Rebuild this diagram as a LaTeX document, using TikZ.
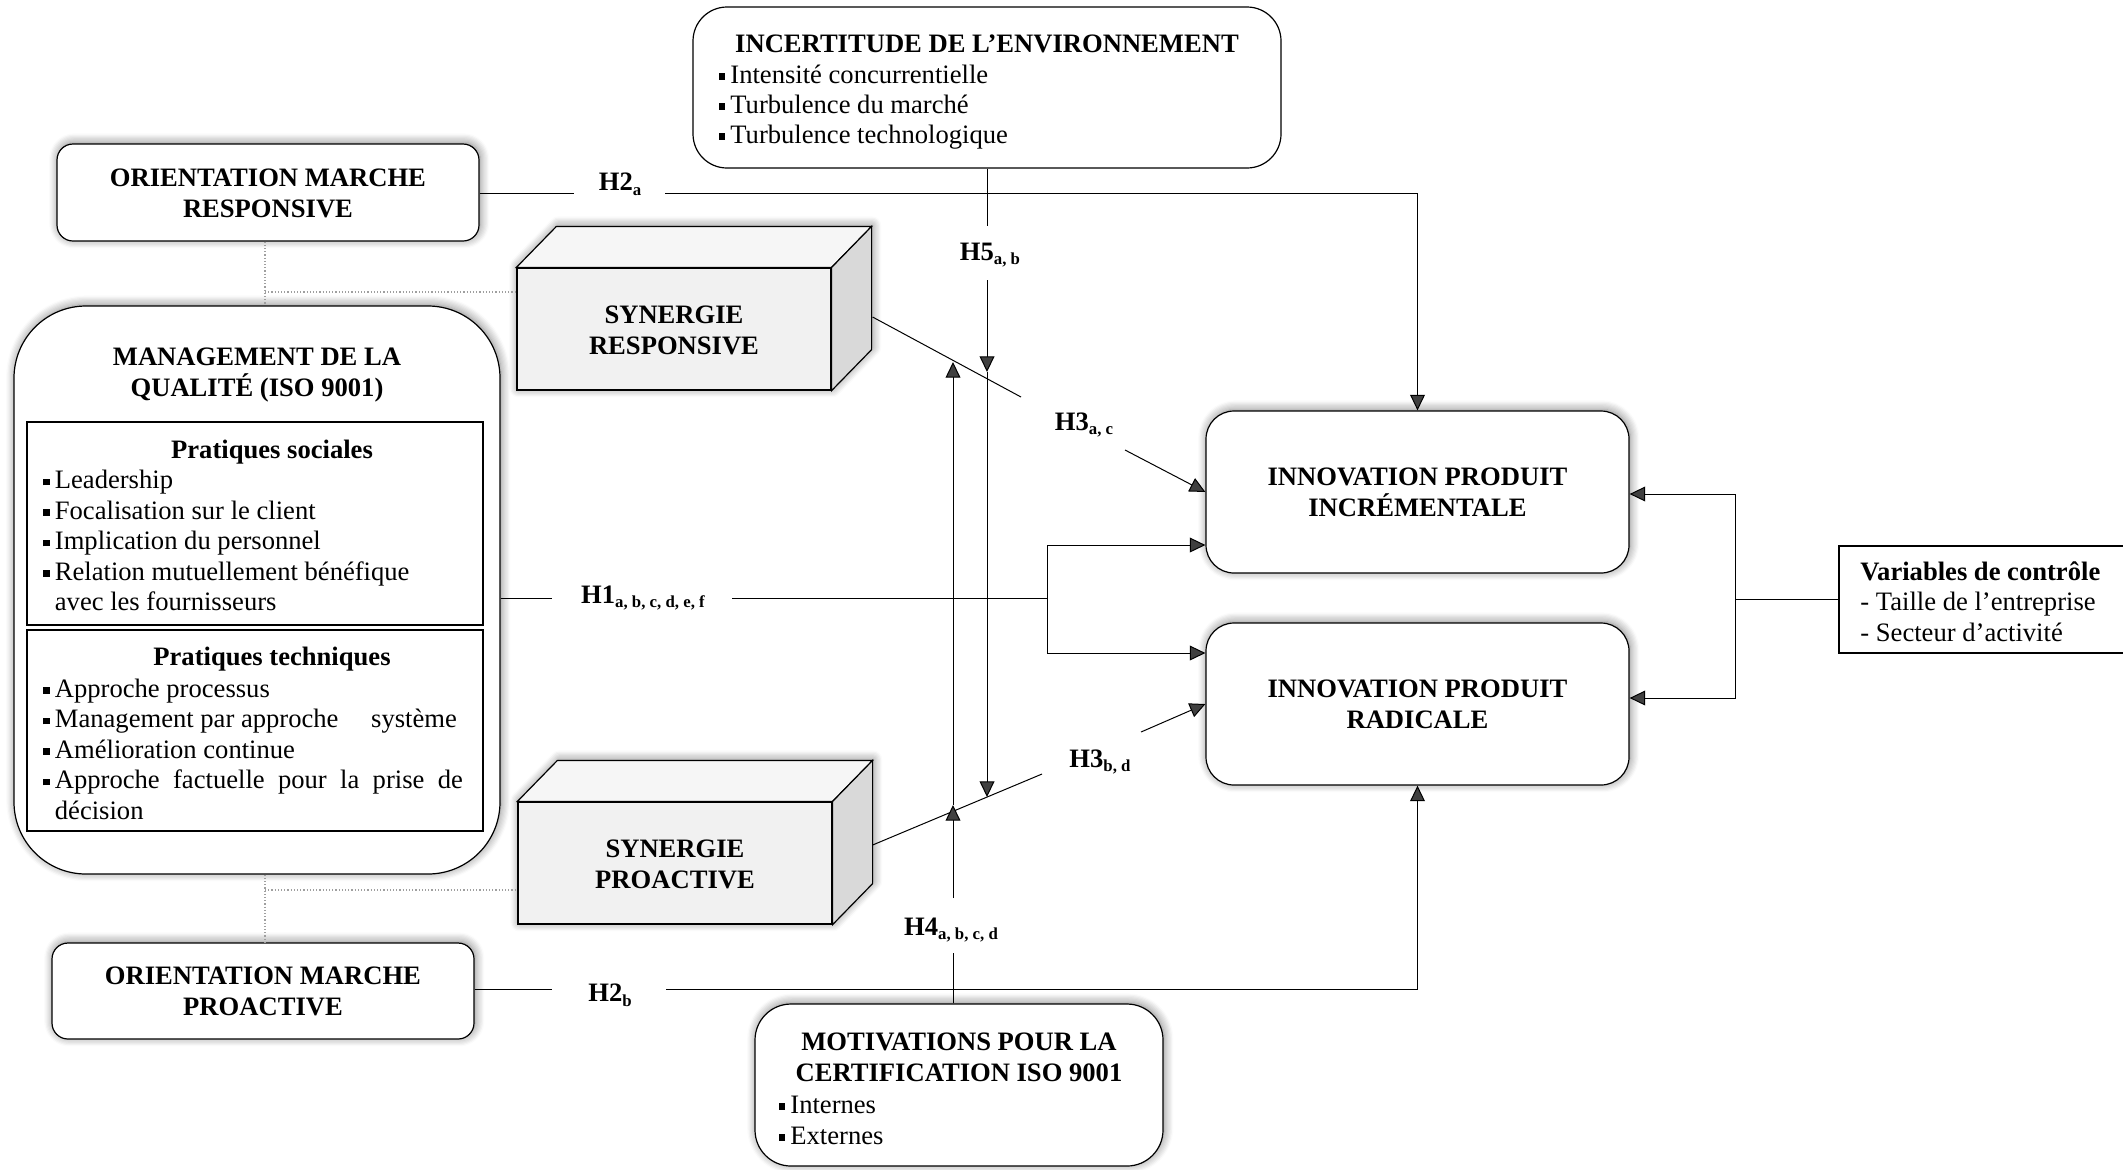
\documentclass[tikz,border=0pt]{standalone}
\usepackage{fontspec}
\setmainfont{Liberation Serif}
\usetikzlibrary{fit,calc,arrows.meta,shadows.blur}
\newcommand\sbs[1]{\raisebox{-2.4pt}{\fontsize{8.4}{9}\selectfont\bfseries #1}}
\newcommand\bsq{\llap{\raisebox{1.6pt}{\rule{3.3pt}{3.3pt}}\hspace{2.5pt}}}
\tikzset{
  every node/.style={font=\fontsize{13.3}{15.4}\selectfont},
  shad/.style={blur shadow={shadow xshift=0.6pt, shadow yshift=0.8pt, shadow blur radius=4.5pt, shadow blur steps=8, shadow opacity=50}},
  rbox/.style={draw, line width=0.6pt, fill=white, inner sep=0pt, rounded corners=#1, shad},
  rbox/.default=8pt,
  pbox/.style={draw, line width=0.6pt, inner sep=0pt},
  front/.style={draw, line width=0.6pt, fill=gray!11, inner sep=0pt},
  ctext/.style={align=center, inner sep=0pt, font=\fontsize{13.3}{15.6}\selectfont\bfseries},
  conn/.style={line width=0.5pt},
  arr/.style={conn, -{Triangle[length=7.8pt,width=7.4pt]}},
  dotl/.style={gray!75, densely dotted, line width=0.6pt},
  lbl/.style={font=\fontsize{13.3}{15}\selectfont\bfseries, inner sep=1pt},
  txt/.style={anchor=base west, inner sep=0pt},
  ttl/.style={anchor=base, inner sep=0pt, font=\fontsize{13.3}{15.4}\selectfont\bfseries},
}
\begin{document}
\begin{tikzpicture}[x=0.5pt, y=-0.5pt]
\useasboundingbox (0,0) rectangle (2123,1169);

% ---------- corner coordinates ----------
\coordinate (envA) at (693,7);   \coordinate (envB) at (1281,168);
\coordinate (omrA) at (57,144);  \coordinate (omrB) at (479,241);
\coordinate (ompA) at (52,943);  \coordinate (ompB) at (474,1039);
\coordinate (mgA) at (14,306);   \coordinate (mgB) at (500,874);
\coordinate (socA) at (27,422);  \coordinate (socB) at (483,625);
\coordinate (tecA) at (27,630);  \coordinate (tecB) at (483,831);
\coordinate (incA) at (1206,411); \coordinate (incB) at (1629,573);
\coordinate (radA) at (1206,623); \coordinate (radB) at (1629,785);
\coordinate (motA) at (755,1004); \coordinate (motB) at (1163,1166);
\coordinate (varA) at (1839,546); \coordinate (varB) at (2130,653);
\coordinate (srA) at (517,268);  \coordinate (srB) at (831,390);
\coordinate (spA) at (518,802);  \coordinate (spB) at (832,924);

% ---------- INCERTITUDE ----------
\node[draw, line width=0.6pt, fill=white, inner sep=0pt, rounded corners=17pt, fit=(envA)(envB)] (env) {};
\node[ttl] (envt) at (987,52) {INCERTITUDE DE L’ENVIRONNEMENT};
\node[txt] (env1) at (730,83) {\bsq Intensité concurrentielle};
\node[txt] (env2) at (730,113) {\bsq Turbulence du marché};
\node[txt] (env3) at (730,143) {\bsq Turbulence technologique};

% ---------- orientation boxes ----------
\node[rbox, fit=(omrA)(omrB)] (omr) {};
\node[ctext] (omrt) at ($(omr.center)+(0,1)$) {ORIENTATION MARCHE\\RESPONSIVE};
\node[rbox, fit=(ompA)(ompB)] (omp) {};
\node[ctext] (ompt) at ($(omp.center)+(0,0)$) {ORIENTATION MARCHE\\PROACTIVE};

% ---------- management ----------
\node[rbox=36pt, fit=(mgA)(mgB)] (mgmt) {};
\node[ctext] (mgt) at (257,375) {MANAGEMENT DE LA\\QUALITÉ (ISO 9001)};
\node[pbox, fit=(socA)(socB)] (soc) {};
\node[pbox, fit=(tecA)(tecB)] (tec) {};
\node[ttl] (soct) at (272,458) {Pratiques sociales};
\node[txt] (s1) at (54.5,488.5) {\bsq Leadership};
\node[txt] (s2) at (54.5,519) {\bsq Focalisation sur le client};
\node[txt] (s3) at (54.5,549.5) {\bsq Implication du personnel};
\node[txt] (s4) at (54.5,580) {\bsq Relation mutuellement bénéfique};
\node[txt] (s5) at (54.5,610.5) {avec les fournisseurs};
\node[ttl] (tect) at (272,665.5) {Pratiques techniques};
\node[txt] (t1) at (54.5,697) {\bsq Approche processus};
\node[txt] (t2) at (54.5,727.5) {\bsq\makebox[201pt][l]{Management par approche\hfill système}};
\node[txt] (t3) at (54.5,758) {\bsq Amélioration continue};
\node[txt] (t4) at (54.5,788.5) {\bsq\makebox[204pt][s]{Approche factuelle pour la prise de}};
\node[txt] (t5) at (54.5,819) {décision};

% ---------- synergy cubes ----------
\path[shad, fill=white] (srA |- srB) -- (srA) -- ++(40,-41) -- ($(srB |- srA)+(40,-41)$) -- ($(srB)+(40,-41)$) -- (srB) -- cycle;
\node[front, fit=(srA)(srB)] (sr) {};
\draw[line width=0.6pt, fill=gray!7] (sr.north west) -- ++(40,-41) -- ($(sr.north east)+(40,-41)$) -- (sr.north east) -- cycle;
\draw[line width=0.6pt, fill=gray!30] (sr.north east) -- ++(40,-41) -- ($(sr.south east)+(40,-41)$) -- (sr.south east) -- cycle;
\node[ctext] (srt) at ($(sr.center)+(0,1)$) {SYNERGIE\\RESPONSIVE};

\path[shad, fill=white] (spA |- spB) -- (spA) -- ++(40,-41) -- ($(spB |- spA)+(40,-41)$) -- ($(spB)+(40,-41)$) -- (spB) -- cycle;
\node[front, fit=(spA)(spB)] (sp) {};
\draw[line width=0.6pt, fill=gray!7] (sp.north west) -- ++(40,-41) -- ($(sp.north east)+(40,-41)$) -- (sp.north east) -- cycle;
\draw[line width=0.6pt, fill=gray!30] (sp.north east) -- ++(40,-41) -- ($(sp.south east)+(40,-41)$) -- (sp.south east) -- cycle;
\node[ctext] (spt) at ($(sp.center)+(0,1)$) {SYNERGIE\\PROACTIVE};

% ---------- innovation ----------
\node[rbox=14pt, fit=(incA)(incB)] (inc) {};
\node[ctext] (inct) at ($(inc.center)+(0,0)$) {INNOVATION PRODUIT\\INCRÉMENTALE};
\node[rbox=14pt, fit=(radA)(radB)] (rad) {};
\node[ctext] (radt) at ($(rad.center)+(0,0)$) {INNOVATION PRODUIT\\RADICALE};

% ---------- motivations ----------
\node[rbox=18pt, fit=(motA)(motB)] (mot) {};
\node[ctext] (mott) at (959,1057) {MOTIVATIONS POUR LA\\CERTIFICATION ISO 9001};
\node[txt] (m1) at (790,1113) {\bsq Internes};
\node[txt] (m2) at (790,1144) {\bsq Externes};

% ---------- control variables ----------
\node[pbox, fit=(varA)(varB)] (var) {};
\node[txt, font=\fontsize{13.3}{15}\selectfont\bfseries] (v0) at (1860,580) {Variables de contrôle};
\node[txt] (v1) at (1860,610) {- Taille de l’entreprise};
\node[txt] (v2) at (1860,641) {- Secteur d’activité};

% ---------- hypothesis labels ----------
\node[lbl] (lh2a) at (620,184) {H2\sbs{a}};
\node[lbl] (lh1) at (643,598) {H1\sbs{a, b, c, d, e, f}};
\node[lbl] (lh2b) at (610,995) {H2\sbs{b}};
\node[lbl] (lh3ac) at (1084,425) {H3\sbs{a, c}};
\node[lbl] (lh3bd) at (1100,762) {H3\sbs{b, d}};
\node[lbl] (lh5) at (990,255) {H5\sbs{a, b}};
\node[lbl] (lh4) at (951,930) {H4\sbs{a, b, c, d}};

% ---------- connector coordinates ----------
\coordinate (h2aL) at (574,193); \coordinate (h2aR) at (665,193);
\coordinate (h2bL) at (552,989); \coordinate (h2bR) at (666,989);
\coordinate (h1L) at (552,598);  \coordinate (h1R) at (732,598);
\coordinate (fork) at (1047,598);
\coordinate (srO) at ($(sr.east)+(41,-12)$);
\coordinate (h3a1) at (1021,397); \coordinate (h3a2) at (1125,450);
\coordinate (spO) at ($(sp.east)+(40,-18)$);
\coordinate (h3b1) at (1042,774); \coordinate (h3b2) at (1141,732);
\coordinate (h5a) at (987,226); \coordinate (h5b) at (987,280);
\coordinate (h5t1) at (987,372); \coordinate (h5t2) at (987,797);
\coordinate (h4a) at (953,953); \coordinate (h4b) at (953,898);
\coordinate (h4t1) at (953,805); \coordinate (h4t2) at (953,362);
\coordinate (ctl) at (1735,599.5);
\coordinate (d1) at (265,292); \coordinate (d2) at (265,890);

% ---------- connectors ----------
\draw[conn] (omr.east |- h2aL) -- (h2aL);
\draw[arr] (h2aR) -| (inc.north);
\draw[conn] (omp.east |- h2bL) -- (h2bL);
\draw[arr] (h2bR) -| (rad.south);
\draw[conn] (mgmt.east |- h1L) -- (h1L);
\draw[conn] (h1R) -- (fork);
\draw[arr] (fork) |- ($(inc.west)+(0,53)$);
\draw[arr] (fork) |- ($(rad.west)+(0,-51)$);
\draw[conn] (srO) -- (h3a1);
\draw[arr] (h3a2) -- (inc.west);
\draw[conn] (spO) -- (h3b1);
\draw[arr] (h3b2) -- (rad.west);
\draw[conn] (env.south) -- (h5a);
\draw[arr] (h5b) -- (h5t1);
\draw[arr] (h5t1) -- (h5t2);
\draw[conn] (h4a |- mot.north) -- (h4a);
\draw[arr] (h4b) -- (h4t1);
\draw[arr] (h4t1) -- (h4t2);
\draw[conn] (var.west) -- (ctl);
\draw[arr] (ctl) |- ($(inc.east)+(0,2)$);
\draw[arr] (ctl) |- ($(rad.east)+(0,-6)$);
\draw[dotl] (d1 |- omr.south) -- (d1 |- mgmt.north);
\draw[dotl] (d1) -- (d1 -| sr.west);
\draw[dotl] (d2 |- mgmt.south) -- (d2 |- omp.north);
\draw[dotl] (d2) -- (d2 -| sp.west);
\end{tikzpicture}
\end{document}
